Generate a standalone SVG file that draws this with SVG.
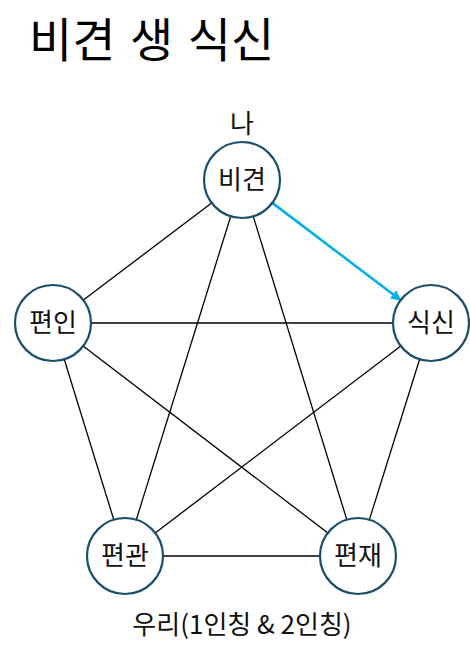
<svg xmlns="http://www.w3.org/2000/svg" width="470" height="654" viewBox="0 0 470 654">
<defs>
<style>
.n{fill:#fff;stroke:#1a4f6b;stroke-width:2.2}
.t{font-family:"Noto Sans CJK KR","Noto Sans",sans-serif;font-size:26px;fill:#111;text-anchor:middle}
.e{stroke:#000;stroke-width:1.3;fill:none}
</style>
<marker id="ah" viewBox="0 0 10 10" refX="9" refY="5" markerWidth="4" markerHeight="4" orient="auto"><path d="M0,0 L10,5 L0,10 z" fill="#00b0f0"/></marker>
</defs>
<rect width="470" height="654" fill="#fff"/>
<text x="29" y="57" style="font-family:'Noto Sans CJK KR','Noto Sans',sans-serif;font-size:47px;fill:#000;word-spacing:4px">비견 생 식신</text>
<g id="connectors">
<line class="e" x1="242" y1="180" x2="53" y2="323"/>
<line class="e" x1="242" y1="180" x2="125" y2="556"/>
<line class="e" x1="242" y1="180" x2="358" y2="556"/>
<line class="e" x1="53" y1="323" x2="431" y2="323"/>
<line class="e" x1="53" y1="323" x2="125" y2="556"/>
<line class="e" x1="53" y1="323" x2="358" y2="556"/>
<line class="e" x1="431" y1="323" x2="125" y2="556"/>
<line class="e" x1="431" y1="323" x2="358" y2="556"/>
<line class="e" x1="125" y1="556" x2="358" y2="556"/>
<line x1="272.3" y1="202.9" x2="400.5" y2="300" stroke="#00b0f0" stroke-width="2.6" marker-end="url(#ah)"/>
</g>
<g id="bigyeon"><circle class="n" cx="242" cy="180" r="38"/><text class="t" x="242" y="189">비견</text><text class="t" x="242" y="133">나</text></g>
<g id="siksin"><circle class="n" cx="431" cy="323" r="38"/><text class="t" x="431" y="332">식신</text></g>
<g id="pyeonin"><circle class="n" cx="53" cy="323" r="38"/><text class="t" x="53" y="332">편인</text></g>
<g id="pyeongwan"><circle class="n" cx="125" cy="556" r="38"/><text class="t" x="125" y="565">편관</text></g>
<g id="pyeonjae"><circle class="n" cx="358" cy="556" r="38"/><text class="t" x="358" y="565">편재</text></g>
<text class="t" x="242" y="634">우리(1인칭 &amp; 2인칭)</text>
</svg>
